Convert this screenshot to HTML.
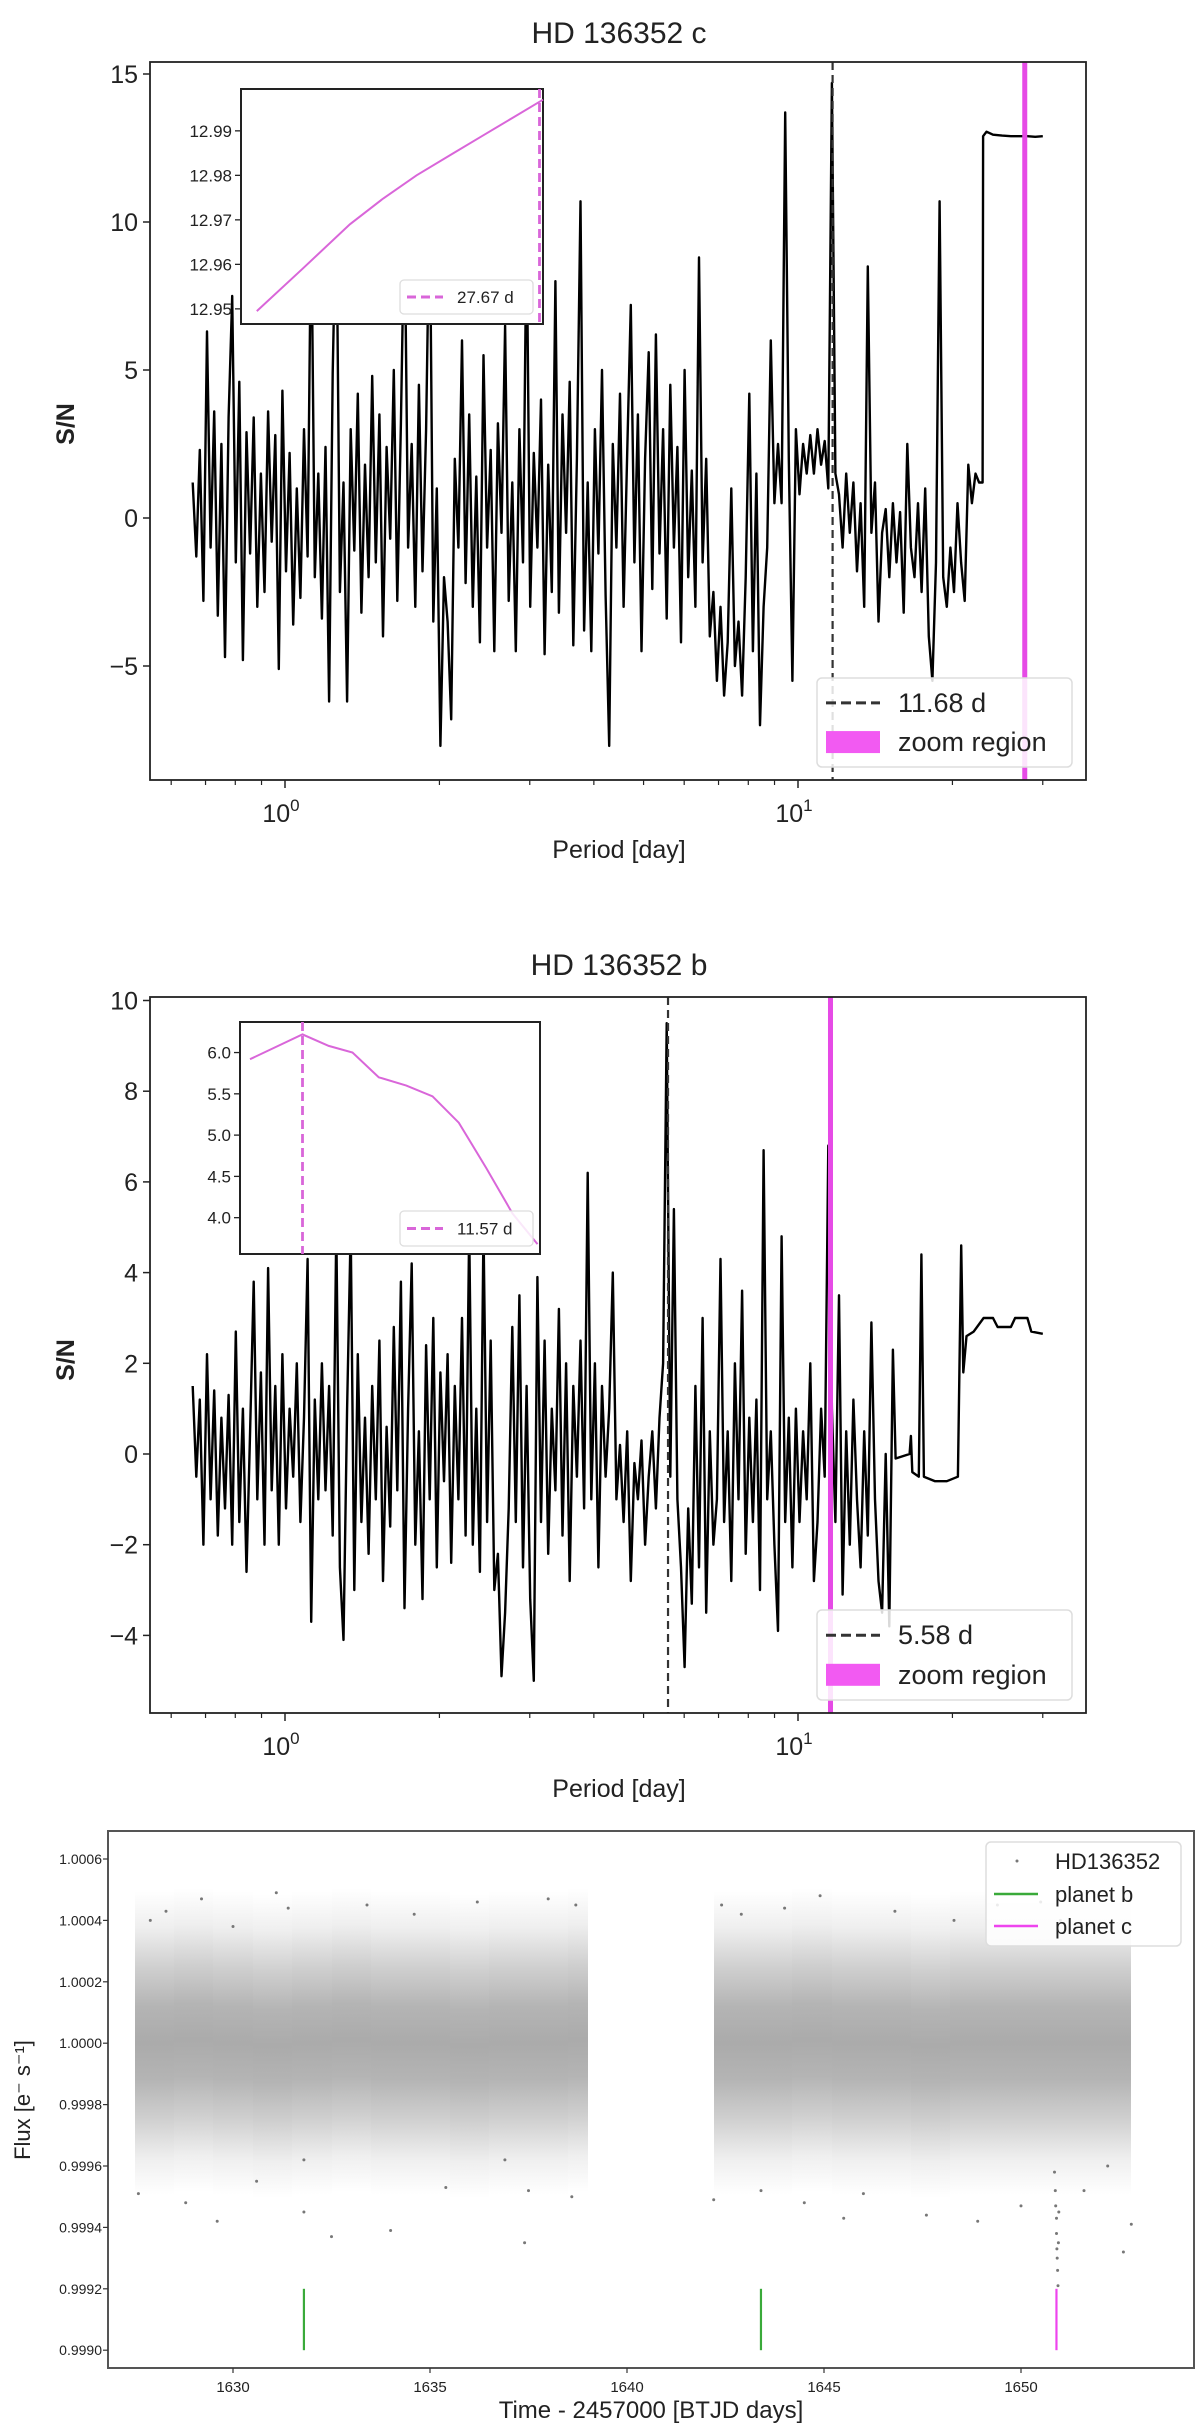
<!DOCTYPE html>
<html><head><meta charset="utf-8">
<style>
html,body{margin:0;padding:0;background:#fff;}
svg{display:block;}
text{font-family:"Liberation Sans",sans-serif;fill:#222;}
</style></head>
<body>
<svg id="fig" width="1200" height="2427" viewBox="0 0 1200 2427" xmlns="http://www.w3.org/2000/svg">
<defs>
<linearGradient id="cloudGrad" x1="0" y1="0" x2="0" y2="1">
<stop offset="0" stop-color="#777" stop-opacity="0"/>
<stop offset="0.12" stop-color="#777" stop-opacity="0.12"/>
<stop offset="0.25" stop-color="#777" stop-opacity="0.35"/>
<stop offset="0.38" stop-color="#777" stop-opacity="0.55"/>
<stop offset="0.5" stop-color="#777" stop-opacity="0.62"/>
<stop offset="0.62" stop-color="#777" stop-opacity="0.55"/>
<stop offset="0.75" stop-color="#777" stop-opacity="0.35"/>
<stop offset="0.88" stop-color="#777" stop-opacity="0.12"/>
<stop offset="1" stop-color="#777" stop-opacity="0"/>
</linearGradient>
</defs>
<rect x="0" y="0" width="1200" height="2427" fill="#fff"/>
<g id="top"></g>
<g id="mid"></g>
<g id="bot"></g>
</svg>
<script>
// ===== Top periodogram (HD 136352 c) =====
const topGridStartLog = -0.18;
const topGridStepLog = 0.007;
const topSN = [
1.2,-1.3,2.3,-2.8,6.3,-1.0,3.6,-3.3,2.5,-4.7,
3.4,7.5,-1.5,4.6,-4.8,2.9,-1.2,3.4,-3.0,1.5,
-2.5,3.6,-0.8,2.8,-5.1,4.3,-1.8,2.2,-3.6,1.0,
-2.7,3.0,-1.3,10.5,-2.0,1.5,-3.4,2.4,-6.2,4.9,
11.0,-2.5,1.2,-6.2,3.0,-1.1,4.2,-3.2,1.8,-2.0,
4.8,-1.5,3.5,-4.0,2.4,-0.7,5.0,-2.8,3.2,10.5,
-1.0,2.5,-3.0,4.5,-1.8,3.0,11.0,-3.5,1.0,-7.7,
-2.0,-3.5,-6.8,2.0,-1.0,6.0,-2.2,3.5,-3.0,1.4,
-4.2,5.5,-1.0,2.3,-4.5,3.2,-0.5,6.5,-2.8,1.2,
-4.5,3.0,-1.5,10.0,-3.0,2.2,-1.0,4.0,-4.6,1.8,
-2.5,8.0,-3.2,3.5,-0.5,4.6,-4.3,2.0,10.7,-3.8,
1.2,-4.5,3.0,-1.2,5.0,-2.6,-7.7,2.5,-1.0,4.2,
-3.0,2.2,7.2,-1.5,3.5,-4.5,2.0,5.6,-2.4,6.2,
-1.2,3.0,-3.4,4.5,-1.0,2.4,-4.2,5.0,-2.0,1.6,
-3.0,8.8,-1.5,2.0,-4.0,-2.5,-5.5,-3.0,-6.0,-4.2,
1.0,-5.0,-3.5,-6.0,-2.0,4.2,-4.5,1.5,-7.0,-3.0,
-1.0,6.0,0.5,2.5,0.5,13.7,2.0,-5.5,3.0,0.8,
2.5,1.5,2.8,1.5,3.0,1.8,2.6,1.0,14.7,1.5,
0.8,-1.0,1.5,-0.5,1.2,-1.8,0.5,-3.0,8.5,-0.5,
1.2,-3.5,-0.5,0.3,-2.0,0.5,-1.5,0.2,-3.2,2.5,
-1.0,-2.0,0.5,-2.5,1.0,-4.0,-5.5,-1.5,10.7,-2.0,
-3.0,-1.0,-2.5,0.5,-1.5,-2.8,1.8,0.5,1.5,1.2];
const topTailPeriods = [22.9,22.95,23.3,24.0,25.0,26.0,27.0,28.0,29.0,30.0];
const topTailSN = [1.2,12.9,13.05,12.95,12.92,12.9,12.9,12.9,12.88,12.9];
const topBestPeriod = 11.68;
const topZoomPeriod = 27.67;
const topYTicks = [-5,0,5,10,15];
const topInsetPeriods = [27.509,27.535,27.562,27.581,27.600,27.621,27.638,27.655,27.672];
const topInsetSN = [12.9495,12.959,12.969,12.9748,12.980,12.985,12.989,12.993,12.997];
const topInsetTicks = [12.95,12.96,12.97,12.98,12.99];

// ===== Middle periodogram (HD 136352 b) =====
const midGridStartLog = -0.18;
const midGridStepLog = 0.007;
const midSN = [
1.5,-0.5,1.2,-2.0,2.2,-1.0,1.4,-1.8,0.8,-1.2,
1.3,-2.0,2.7,-1.5,1.0,-2.6,0.5,3.8,-1.0,1.8,
-2.0,4.1,-0.8,1.5,-2.0,2.2,-1.2,1.0,-0.5,2.0,
-1.5,0.8,4.3,-3.7,1.2,-1.0,2.0,-0.8,1.5,-1.8,
5.0,-2.5,-4.1,1.0,5.0,-3.0,2.2,-1.5,0.8,-2.2,
1.5,-1.0,2.5,-2.8,0.6,-1.6,2.8,-0.8,3.8,-3.4,
1.0,4.2,-2.0,0.5,-3.2,2.4,-1.0,3.0,-2.5,1.8,
-0.6,2.2,-2.4,1.5,-1.0,3.0,-1.8,5.0,-2.0,1.0,
-2.6,5.0,-1.5,2.5,-3.0,-2.2,-4.9,-3.5,-1.2,2.8,
-1.5,3.5,-2.5,1.5,-3.2,-5.0,3.9,-1.5,2.5,-2.2,
1.0,-0.8,3.2,-1.8,2.0,-2.8,1.5,-0.5,2.5,-1.2,
6.2,-1.0,2.0,-2.5,1.5,-0.5,1.0,4.0,-1.0,0.2,
-1.5,0.5,-2.8,-0.2,-1.0,0.3,-2.0,-0.5,0.5,-1.2,
0.8,2.0,9.5,-0.5,5.4,-1.0,-2.5,-4.7,-1.2,-3.3,
1.5,-2.5,3.0,-3.5,0.5,-2.0,-1.0,4.3,-1.5,0.5,
-2.8,2.0,-1.0,3.6,-2.2,0.8,-1.5,1.2,-3.0,6.7,
-1.0,0.5,-2.0,-3.9,4.8,-1.5,0.8,-2.5,1.0,-1.5,
0.5,-1.0,2.0,-2.8,-1.5,1.0,-0.5,6.8,1.0,-1.5,
3.5,-3.1,0.5,-2.0,1.2,-1.0,-2.5,0.5,-1.8,2.9,
-1.0,-2.8,-3.5,0.0,-3.8,2.3];
const midTailPeriods = [15.5,16.5,16.6,16.7,17.2,17.4,17.6,18.5,19.5,20.5,20.8,21.0,21.3,22.0,23.0,24.0,24.5,26.0,26.5,28.0,28.5,30.0];
const midTailSN = [-0.1,0.0,0.4,-0.4,-0.5,4.4,-0.5,-0.6,-0.6,-0.5,4.6,1.8,2.6,2.7,3.0,3.0,2.8,2.8,3.0,3.0,2.7,2.65];
const midBestPeriod = 5.58;
const midZoomPeriod = 11.57;
const midYTicks = [-4,-2,0,2,4,6,8,10];
const midInsetPeriods = [11.528,11.570,11.591,11.610,11.631,11.653,11.674,11.695,11.717,11.738,11.758];
const midInsetSN = [5.92,6.22,6.08,6.0,5.7,5.6,5.47,5.15,4.6,4.05,3.68];
const midInsetTicks = [4.0,4.5,5.0,5.5,6.0];

// ===== Bottom light curve =====
const lcBinStart = [1627.5,1628.5,1629.5,1630.5,1631.5,1632.5,1633.5,1634.5,1635.5,1636.5,1637.5,1638.5, 1642.2,1643.2,1644.2,1645.2,1646.2,1647.2,1648.2,1649.2,1650.2,1651.2,1652.2];
const lcBinEnd   = [1628.5,1629.5,1630.5,1631.5,1632.5,1633.5,1634.5,1635.5,1636.5,1637.5,1638.5,1639.0, 1643.2,1644.2,1645.2,1646.2,1647.2,1648.2,1649.2,1650.2,1651.2,1652.2,1652.8];
const lcBinMean  = [1.00000,1.00001,1.00000,0.99999,1.00000,1.00001,1.00000,1.00000,0.99999,1.00000,1.00000,1.00001, 1.00000,1.00000,1.00001,1.00000,1.00000,0.99999,1.00000,1.00000,1.00000,1.00000,1.00000];
const lcBinSigma = [0.00013,0.00013,0.00013,0.00013,0.00013,0.00013,0.00013,0.00013,0.00013,0.00013,0.00013,0.00013, 0.00013,0.00013,0.00013,0.00013,0.00013,0.00013,0.00013,0.00013,0.00013,0.00013,0.00013];
const lcOutT = [1627.6,1627.9,1628.3,1628.8,1629.2,1629.6,1630.0,1630.6,1631.1,1631.4,1631.8,1631.8,1632.5,1633.4,1634.0,1634.6,1635.4,1636.2,1636.9,1637.4,1637.5,1638.0,1638.6,1638.7,1642.2,1642.4,1642.9,1643.4,1644.0,1644.5,1644.9,1645.5,1646.0,1646.8,1647.6,1648.3,1648.9,1649.4,1650.0,1650.5,1651.0,1651.6,1652.2,1652.6,1652.8];
const lcOutF = [0.99951,1.00040,1.00043,0.99948,1.00047,0.99942,1.00038,0.99955,1.00049,1.00044,0.99945,0.99962,0.99937,1.00045,0.99939,1.00042,0.99953,1.00046,0.99962,0.99935,0.99952,1.00047,0.99950,1.00045,0.99949,1.00045,1.00042,0.99952,1.00044,0.99948,1.00048,0.99943,0.99951,1.00043,0.99944,1.00040,0.99942,1.00045,0.99947,1.00046,1.00040,0.99952,0.99960,0.99932,0.99941];
const lcDipT = [1650.85,1650.87,1650.88,1650.9,1650.9,1650.91,1650.92,1650.93,1650.94,1650.95,1650.96];
const lcDipF = [0.99958,0.99952,0.99947,0.99943,0.99938,0.99933,0.99930,0.99926,0.99921,0.99935,0.99945];
const planetBTimes = [1631.8,1643.4];
const planetCTimes = [1650.9];
const lcYTicks = [0.9990,0.9992,0.9994,0.9996,0.9998,1.0000,1.0002,1.0004,1.0006];
const lcXTicks = [1630,1635,1640,1645,1650];

const NS='http://www.w3.org/2000/svg';
function el(parent,tag,attrs,txt){const e=document.createElementNS(NS,tag);for(const k in attrs)e.setAttribute(k,attrs[k]);if(txt!==undefined)e.textContent=txt;parent.appendChild(e);return e;}

const X0=285, DEC=513;
function xLog(p){return X0+DEC*Math.log10(p);}

function periodogram(g, cfg){
  const L=150,R=1086,T=cfg.top,B=cfg.bottom;
  const yS=v=>cfg.y0+(-v)*cfg.yk;
  const t=el(g,'text',{x:619,y:cfg.titleY,'text-anchor':'middle','font-size':30},cfg.title);
  
  
  let d='';
  cfg.sn.forEach((v,i)=>{const p=Math.pow(10,cfg.startLog+i*cfg.stepLog);d+=(i?'L':'M')+xLog(p).toFixed(1)+' '+yS(v).toFixed(1);});
  cfg.tailP.forEach((p,i)=>{d+='L'+xLog(p).toFixed(1)+' '+yS(cfg.tailV[i]).toFixed(1);});
  const s=el(g,'path',{d:d,fill:'none',stroke:'#000','stroke-width':2.4,'stroke-linejoin':'round'});
  
  
  const bx=xLog(cfg.best);
  const bl=el(g,'line',{x1:bx,x2:bx,y1:T,y2:B,stroke:'#333','stroke-width':2.2,'stroke-dasharray':'8,5'});
  
  
  const zx=xLog(cfg.zoom);
  const zr=el(g,'rect',{x:zx-2.5,y:T,width:5,height:B-T,fill:'#e64ae6'});
  
  
  const fr=el(g,'rect',{x:L,y:T,width:R-L,height:B-T,fill:'none',stroke:'#222','stroke-width':1.8});
  
  
  cfg.yTicks.forEach(v=>{const y=yS(v);
    const tk=el(g,'line',{x1:L-7,x2:L,y1:y,y2:y,stroke:'#222','stroke-width':1.5});
    
    
    const lb=el(g,'text',{x:L-12,y:y+9,'text-anchor':'end','font-size':25},v<0?'\u2212'+Math.abs(v):String(v));
    
    
  });
  [0.6,0.7,0.8,0.9,2,3,4,5,6,7,8,9,20,30].forEach(p=>{const x=xLog(p);
    const tk=el(g,'line',{x1:x,x2:x,y1:B,y2:B+5,stroke:'#222','stroke-width':1.2});
    
    
  });
  [1,10].forEach((p,i)=>{const x=xLog(p);
    const tk=el(g,'line',{x1:x,x2:x,y1:B,y2:B+8,stroke:'#222','stroke-width':1.5});
    
    
    const lb=el(g,'text',{x:x-4,y:B+42,'text-anchor':'middle','font-size':25},'10');
    
    
    const sp=el(lb,'tspan',{dy:-11,'font-size':17},String(i));
    
    
  });
  const xl=el(g,'text',{x:619,y:cfg.xlabelY,'text-anchor':'middle','font-size':25},'Period [day]');
  
  
  const yl=el(g,'text',{x:0,y:0,'text-anchor':'middle','font-size':25,'font-weight':'bold',fill:'#333',transform:'translate(74,'+cfg.ylabelY+') rotate(-90)'},'S/N');
  
  
  const LG={x:817,y:cfg.legY,w:255,h:cfg.legH};
  const lg=el(g,'rect',{x:LG.x,y:LG.y,width:LG.w,height:LG.h,rx:5,fill:'#fff','fill-opacity':0.85,stroke:'#ddd','stroke-width':1.5});
  
  
  const r1=LG.y+LG.h*0.28, r2=LG.y+LG.h*0.72;
  const ll=el(g,'line',{x1:826,x2:880,y1:r1,y2:r1,stroke:'#333','stroke-width':3,'stroke-dasharray':'10,5'});
  
  
  const lt=el(g,'text',{x:898,y:r1+9,'font-size':27},cfg.best.toFixed(2)+' d');
  
  
  const lp=el(g,'rect',{x:826,y:r2-11,width:54,height:22,fill:'#f25af2'});
  
  
  const lt2=el(g,'text',{x:898,y:r2+9,'font-size':27},'zoom region');
  
  
  const I=cfg.inset;
  const iy=v=>I.b-(v-I.vmin)/(I.vmax-I.vmin)*(I.b-I.t);
  const ix=p=>I.l+(p-I.pmin)/(I.pmax-I.pmin)*(I.r-I.l);
  const ib=el(g,'rect',{x:I.l,y:I.t,width:I.r-I.l,height:I.b-I.t,fill:'#fff',stroke:'#222','stroke-width':2});
  
  
  let di='';
  I.P.forEach((p,i)=>{di+=(i?'L':'M')+ix(p).toFixed(1)+' '+iy(I.V[i]).toFixed(1);});
  const ic=el(g,'path',{d:di,fill:'none',stroke:'#d966d9','stroke-width':2});
  
  
  const idx=ix(cfg.zoom);
  const idl=el(g,'line',{x1:idx,x2:idx,y1:I.t,y2:I.b,stroke:'#d966d9','stroke-width':2.8,'stroke-dasharray':'9,5'});
  
  
  I.ticks.forEach(v=>{const y=iy(v);
    const tk=el(g,'line',{x1:I.l-6,x2:I.l,y1:y,y2:y,stroke:'#222','stroke-width':1.3});
    
    
    const lb=el(g,'text',{x:I.l-9,y:y+6,'text-anchor':'end','font-size':17,fill:'#333'},v.toFixed(I.dec));
    
    
  });
  const ilb=el(g,'rect',{x:400,y:I.legY,width:133,height:I.legH,rx:4,fill:'#fff','fill-opacity':0.85,stroke:'#ddd','stroke-width':1.3});
  
  
  const icy=I.legY+I.legH/2;
  const ils=el(g,'line',{x1:407,x2:443,y1:icy,y2:icy,stroke:'#d966d9','stroke-width':3,'stroke-dasharray':'9,5'});
  
  
  const ilt=el(g,'text',{x:457,y:icy+6,'font-size':17,fill:'#333'},cfg.zoom.toFixed(2)+' d');
  
  
}

periodogram(document.getElementById('top'),{
  title:'HD 136352 c',titleY:43,top:62,bottom:780,y0:518,yk:29.6,
  sn:topSN,startLog:topGridStartLog,stepLog:topGridStepLog,tailP:topTailPeriods,tailV:topTailSN,
  best:topBestPeriod,zoom:topZoomPeriod,yTicks:topYTicks,xlabelY:858,ylabelY:424,legY:678,legH:89,
  inset:{l:241,r:543,t:89,b:324,vmin:12.9466,vmax:12.9994,pmin:27.50,pmax:27.672,P:topInsetPeriods,V:topInsetSN,ticks:topInsetTicks,dec:2,legY:280,legH:34}
});
periodogram(document.getElementById('mid'),{
  title:'HD 136352 b',titleY:975,top:997,bottom:1713,y0:1454,yk:45.35,
  sn:midSN,startLog:midGridStartLog,stepLog:midGridStepLog,tailP:midTailPeriods,tailV:midTailSN,
  best:midBestPeriod,zoom:midZoomPeriod,yTicks:midYTicks,xlabelY:1797,ylabelY:1360,legY:1610,legH:90,
  inset:{l:240,r:540,t:1022,b:1254,vmin:3.56,vmax:6.37,pmin:11.52,pmax:11.76,P:midInsetPeriods,V:midInsetSN,ticks:midInsetTicks,dec:1,legY:1211,legH:35}
});

(function(){
  const g=document.getElementById('bot');
  const L=108,R=1194,T=1831,B=2368;
  const xT=t=>233+(t-1630)*39.4;
  const yF=f=>1859+(1.0006-f)/0.0002*61.4;
  const fr=el(g,'rect',{x:L,y:T,width:R-L,height:B-T,fill:'none',stroke:'#555','stroke-width':2});
  
  
  lcBinStart.forEach((t0,i)=>{
    const x0=Math.round(xT(t0)),x1=Math.round(xT(lcBinEnd[i])),m=lcBinMean[i],s=lcBinSigma[i];
    const r=el(g,'rect',{x:x0,y:yF(m+3.8*s).toFixed(1),width:x1-x0,height:(yF(m-3.8*s)-yF(m+3.8*s)).toFixed(1),fill:'url(#cloudGrad)','shape-rendering':'crispEdges'});
    
    
  });
  lcOutT.forEach((t,i)=>{
    const c=el(g,'circle',{cx:xT(t).toFixed(1),cy:yF(lcOutF[i]).toFixed(1),r:1.5,fill:'#777'});
    
    
  });
  lcDipT.forEach((t,i)=>{
    const c=el(g,'circle',{cx:xT(t).toFixed(1),cy:yF(lcDipF[i]).toFixed(1),r:1.5,fill:'#777'});
    
    
  });
  planetBTimes.forEach(t=>{
    const l=el(g,'line',{x1:xT(t),x2:xT(t),y1:yF(0.9992),y2:yF(0.9990),stroke:'#3aaa3a','stroke-width':2.2});
    
    
  });
  planetCTimes.forEach(t=>{
    const l=el(g,'line',{x1:xT(t),x2:xT(t),y1:yF(0.9992),y2:yF(0.9990),stroke:'#ee44ee','stroke-width':2.2});
    
    
  });
  lcYTicks.forEach(v=>{const y=yF(v);
    const tk=el(g,'line',{x1:L-5,x2:L,y1:y,y2:y,stroke:'#333','stroke-width':1.2});
    
    
    const lb=el(g,'text',{x:L-6,y:y+5,'text-anchor':'end','font-size':14,fill:'#333'},v.toFixed(4));
    
    
  });
  lcXTicks.forEach(v=>{const x=xT(v);
    const tk=el(g,'line',{x1:x,x2:x,y1:B,y2:B+5,stroke:'#333','stroke-width':1.2});
    
    
    const lb=el(g,'text',{x:x,y:B+24,'text-anchor':'middle','font-size':15,fill:'#333'},String(v));
    
    
  });
  const xl=el(g,'text',{x:651,y:2418,'text-anchor':'middle','font-size':24},'Time - 2457000 [BTJD days]');
  
  
  const yl=el(g,'text',{x:0,y:0,'text-anchor':'middle','font-size':22,fill:'#333',transform:'translate(30,2100) rotate(-90)'},'Flux [e\u207B s\u207B\u00B9]');
  
  
  const lg=el(g,'rect',{x:986,y:1842,width:195,height:104,rx:5,fill:'#fff','fill-opacity':0.85,stroke:'#ddd','stroke-width':1.5});
  
  
  const ld=el(g,'circle',{cx:1017,cy:1861,r:1.5,fill:'#777'});
  
  
  const lt=el(g,'text',{x:1055,y:1869,'font-size':22},'HD136352');
  
  
  const lb1=el(g,'line',{x1:994,x2:1038,y1:1894,y2:1894,stroke:'#3aaa3a','stroke-width':2.5});
  
  
  const lt1=el(g,'text',{x:1055,y:1902,'font-size':22},'planet b');
  
  
  const lc1=el(g,'line',{x1:994,x2:1038,y1:1926,y2:1926,stroke:'#ee44ee','stroke-width':2.5});
  
  
  const lt3=el(g,'text',{x:1055,y:1934,'font-size':22},'planet c');
  
  
})();
</script>
</body></html>
